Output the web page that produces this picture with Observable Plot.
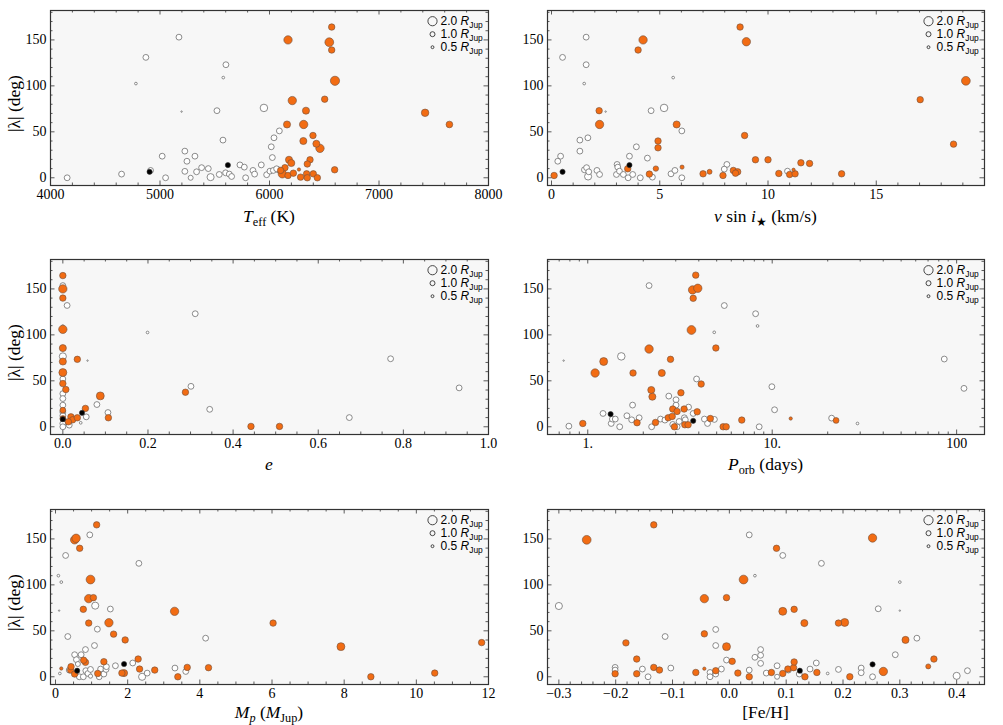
<!DOCTYPE html>
<html><head><meta charset="utf-8">
<script src="https://cdn.jsdelivr.net/npm/d3@7"></script>
<script src="https://cdn.jsdelivr.net/npm/@observablehq/plot@0.6"></script>
<style>
body{margin:0;background:#fff;}
#root{position:relative;width:1003px;height:725px;overflow:hidden;background:#fff;}
#root svg{position:absolute;font-family:"Liberation Serif","Times New Roman",serif !important;font-size:14px !important;}
#root svg text{font-family:"Liberation Serif","Times New Roman",serif;}
#root svg text.leg{font-family:"Liberation Sans",Arial,sans-serif;}
</style></head><body><div id="root"></div>
<script>
// ---------- shared y axis ----------
const yTicks = [0, 50, 100, 150];
const yTickLabels = ["0", "50", "100", "150"];
const legendSizes = [2.0, 1.0, 0.5];
const legendLabels = ["2.0", "1.0", "0.5"];

// ---------- panel 1: Teff ----------  [x, |lambda|, R_Jup]
const teffTicks = [4000, 5000, 6000, 7000, 8000];
const teffTickLabels = ["4000", "5000", "6000", "7000", "8000"];
const teffWhite = [[4152,0,1.2],[4649,4,1.2],[5173,153,1.2],[4871,131,1.2],[4780,102.5,0.45],[5020,23.5,1.2],[5051,0,1.2],[4914,8,1.2],[5197,72,0.15],[5227,29,1.2],[5227,7,1.2],[5246,18,1.2],[5280,0,1.0],[5319,23.5,1.2],[5334,6.5,1.2],[5380,11,1.2],[5441,10,1.2],[5462,0.7,1.5],[5520,73,1.2],[5541,3.6,1.2],[5575,41,1.2],[5578,109,0.45],[5602,123,1.2],[5599,5.4,1.2],[5633,4,1.2],[5654,1.4,1.2],[5730,14,1.2],[5770,11.6,1.2],[5782,0,1.2],[5849,8,1.2],[5864,4,1.2],[5925,14,1.2],[5949,76,1.6],[5974,3.3,1.2],[6004,7.2,1.2],[6016,33.7,1.2],[6026,22,1.2],[6035,8,1.2],[6041,43.5,1.2],[6080,8.7,1.2],[6090,51,1.2],[6065,9.8,1.2]];
const teffOrange = [[6169,150,1.8],[6160,58,1.5],[6208,84,1.8],[6333,73,1.5],[6312,58,1.8],[6309,40,1.5],[6397,46,1.35],[6428,37,1.5],[6461,32,1.8],[6178,19.6,1.5],[6199,16,1.5],[6370,19.6,1.35],[6345,15,1.35],[6117,4.3,1.8],[6141,11,1.35],[6169,2.5,1.35],[6218,5,1.35],[6269,9,0.6],[6284,0.7,1.35],[6339,4.3,1.35],[6345,0,1.35],[6400,4.3,1.35],[6437,0,1.35],[6504,85.5,1.35],[6546,147.5,1.9],[6568,164,1.35],[6568,139,1.35],[6598,105.5,2.0],[6595,8.7,1.35],[7421,70.7,1.6],[7643,58,1.4],[6102,8,1.35]];
const teffBlack = [[4905,6.5],[5620,13.8]];

// ---------- panel 2: v sin i ----------
const vsiniTicks = [0, 5, 10, 15];
const vsiniTickLabels = ["0", "5", "10", "15"];
const vsiniWhite = [[0.51,131,1.2],[0.42,23.5,1.2],[0.29,18,1.2],[1.6,153,1.2],[1.6,123,1.2],[1.51,102.5,0.45],[1.31,41,1.2],[1.68,43.5,1.2],[1.31,29,1.2],[1.52,8.7,1.2],[1.62,11,1.2],[1.69,1.4,1.5],[1.72,6.5,1.2],[2.1,8,1.2],[2.22,3.6,1.2],[2.5,72,0.15],[3.03,14.5,1.2],[3.06,11.6,1.2],[3.0,3.6,1.2],[3.14,7.2,1.2],[3.32,3.6,1.2],[3.54,0,1.2],[3.6,23.5,1.2],[3.75,3.6,1.2],[3.92,33.7,1.2],[4.1,0,1.2],[4.43,21.4,1.2],[4.6,73,1.2],[4.66,0.7,1.2],[5.2,76,1.6],[5.52,4.3,1.2],[5.7,8,1.2],[5.62,109,0.45],[6.02,51,1.2],[6.02,0,1.2],[8.1,14.5,1.2],[7.98,9.4,1.2],[10.9,7.2,1.2]];
const vsiniOrange = [[0.12,2.5,1.35],[2.2,73,1.35],[2.22,58,1.8],[3.52,9.8,1.35],[4.0,139,1.35],[4.23,150,1.8],[4.52,4,1.35],[4.82,10,1.1],[4.92,40,1.35],[4.92,32.6,1.35],[5.78,58,1.5],[6.03,11.6,0.8],[7.0,4.3,1.35],[7.3,6.5,1.0],[7.92,2.5,1.35],[8.71,164,1.35],[9.0,148,1.8],[8.92,46,1.35],[8.4,8,1.35],[8.6,6.5,1.35],[8.5,5,1.35],[9.42,19.6,1.35],[10.0,19.6,1.35],[10.5,4.7,1.35],[11.0,3.6,1.35],[11.25,4.3,1.35],[11.18,8.7,0.6],[11.52,16.3,1.35],[11.92,15.6,1.35],[13.4,4.3,1.35],[17.03,85,1.35],[18.57,36.6,1.35],[19.14,105.5,1.9]];
const vsiniBlack = [[0.51,6.5],[3.6,13.8]];

// ---------- panel 3: eccentricity ----------
const eccTicks = [0, 0.2, 0.4, 0.6, 0.8, 1.0];
const eccTickLabels = ["0.0", "0.2", "0.4", "0.6", "0.8", "1.0"];
const eccWhite = [[0,153.6,1.2],[0.01,132,1.2],[0,109.5,0.45],[0,76.6,1.5],[0,52,1.2],[0,36,1.2],[0,30.7,1.2],[0,23.5,1.2],[0,16,1.2],[0,12,1.2],[0,3.6,1.2],[0,0,1.2],[0.058,72,0.15],[0.055,10.8,1.2],[0.08,24.2,1.2],[0.106,15.5,1.2],[0.015,1.8,1.2],[0.042,4.3,0.45],[0.301,44,1.2],[0.311,123,1.2],[0.199,102.6,0.45],[0.345,19,1.2],[0.673,10,1.2],[0.77,74,1.2],[0.931,42.3,1.2]];
const eccOrange = [[0,164.5,1.35],[0,150,1.8],[0,140,1.35],[0,106,1.8],[0,85.6,1.5],[0,71,1.5],[0,59,1.7],[0,47,1.35],[0.007,40.5,1.35],[0,18,1.2],[0,9,1.2],[0.034,73.4,1.35],[0.019,10.8,1.35],[0.023,7.6,1.35],[0.034,9.8,1.35],[0.013,5.4,1.35],[0.053,20,1.35],[0.088,33.6,1.7],[0.107,9.8,1.35],[0.288,37.6,1.35],[0.442,0.4,1.35],[0.509,0.4,1.35]];
const eccBlack = [[0,8.3],[0.045,15.2]];

// ---------- panel 4: orbital period (log) ----------
const porbTicks = [1, 10, 100];
const porbTickLabels = ["1.", "10.", "100"];
const porbMinor = [0.7,0.8,0.9,2,3,4,5,6,7,8,9,20,30,40,50,60,70,80,90];
const porbWhite = [[0.79,0.7,1.2],[0.74,72,0.15],[1.21,14.5,1.2],[1.34,3.6,1.2],[1.36,8.4,1.2],[1.41,8.4,1.2],[1.49,0,1.2],[1.52,76.6,1.6],[1.63,12,1.2],[1.73,7.6,1.2],[1.75,23.6,1.2],[1.9,9.8,1.2],[2.15,153.6,1.2],[2.22,0,1.2],[2.48,8.4,1.2],[2.62,7.3,1.2],[2.75,33.4,1.2],[2.89,2.5,1.2],[3.01,29.4,1.2],[3.01,23.6,1.2],[3.05,0,1.2],[3.13,5.8,1.2],[3.34,9.8,1.2],[3.38,7.6,1.2],[3.52,21.4,1.2],[3.73,14.5,1.2],[3.89,52,1.2],[4.29,8.4,1.2],[4.46,3.6,1.2],[4.86,8,1.2],[4.85,102.8,0.45],[5.5,131.9,1.2],[8.13,123,1.2],[8.33,109.7,0.45],[8.5,0,1.2],[9.96,43.6,1.2],[10.3,18.5,1.2],[21.0,9.4,1.2],[29.0,3.6,0.45],[85.7,73.7,1.2],[109.6,41.8,1.2]];
const porbOrange = [[0.94,3.6,1.35],[1.096,58.5,1.8],[1.22,71,1.7],[1.76,58.5,1.35],[1.85,4.4,1.35],[2.15,84.6,1.8],[2.21,40,1.5],[2.24,32.7,1.5],[2.33,4.7,1.35],[2.52,58.5,1.5],[2.81,73.4,1.35],[2.73,9.8,1.35],[2.87,11.3,1.35],[2.89,19.3,1.35],[3.05,16.7,1.35],[2.95,0,1.35],[3.2,37,1.35],[3.33,19.3,1.35],[3.36,2.2,1.35],[3.5,2.2,1.35],[3.7,148.9,1.8],[3.95,150.7,1.8],[3.85,165,1.35],[3.73,139.8,1.35],[3.65,105.3,1.9],[3.92,16.3,1.35],[4.12,46.5,1.35],[4.62,9,1.35],[4.95,85.7,1.35],[5.42,0,1.35],[5.63,0,1.35],[6.84,7.3,1.35],[12.6,9,0.6],[22.2,6.9,1.2]];
const porbBlack = [[1.33,13.8],[3.73,6.5]];

// ---------- panel 5: planet mass ----------
const massTicks = [0, 2, 4, 6, 8, 10, 12];
const massTickLabels = ["0", "2", "4", "6", "8", "10", "12"];
const massWhite = [[0.08,110,0.45],[0.16,103,0.45],[0.1,72,0.15],[0.12,3.6,0.45],[0.28,132,1.2],[0.34,43.8,1.2],[0.38,7.3,1.2],[0.53,24,1.2],[0.58,18.6,1.2],[0.62,13.9,1.0],[0.66,0,1.2],[0.71,24,1.2],[0.77,0,1.2],[0.83,29.6,1.2],[0.84,6.6,1.2],[0.9,3.6,1.2],[0.95,154.4,1.2],[0.97,8,1.2],[0.97,0.7,0.8],[1.08,34,1.2],[1.1,77.4,1.5],[1.16,51.8,1.2],[1.21,0,1.2],[1.25,8.4,1.2],[1.34,3,1.2],[1.4,8,1.2],[1.41,11,1.2],[1.52,73.7,1.2],[1.66,12,1.2],[2.14,15,1.2],[2.31,123.4,1.2],[2.4,0,1.5],[2.54,4,1.2],[3.31,9.5,1.2],[3.61,5.8,1.2],[4.16,42,1.2]];
const massOrange = [[0.16,9,0.6],[0.42,7.3,1.35],[0.43,11,1.35],[0.53,149,1.8],[0.57,150.7,1.8],[0.53,3,1.35],[0.67,139.8,1.35],[0.77,73.4,1.35],[0.83,15.7,1.35],[0.78,18,1.35],[0.92,58.4,1.35],[0.92,85,1.8],[0.97,105.8,1.9],[1.05,86.1,1.35],[1.14,165.3,1.35],[1.17,3.6,1.35],[1.34,16.4,1.35],[1.48,58.8,1.8],[1.61,46.4,1.35],[1.84,4,1.35],[1.9,4,1.5],[1.93,40.1,1.35],[2.29,19.3,1.35],[2.33,8.4,1.35],[2.75,7.3,1.35],[3.3,71.2,1.8],[3.39,0,1.35],[3.65,10.2,1.35],[4.24,9.9,1.35],[6.03,58.4,1.35],[7.91,32.8,1.7],[8.74,0,1.35],[10.51,4,1.35],[11.81,37.2,1.35]];
const massBlack = [[0.6,6.6],[1.9,13.9]];

// ---------- panel 6: metallicity ----------
const fehTicks = [-0.3, -0.2, -0.1, 0, 0.1, 0.2, 0.3, 0.4];
const fehTickLabels = ["\u22120.3", "\u22120.2", "\u22120.1", "0.0", "0.1", "0.2", "0.3", "0.4"];
const fehWhite = [[-0.3,77,1.5],[-0.201,10.2,1.2],[-0.201,7.3,1.2],[-0.153,8.4,1.2],[-0.143,0,1.2],[-0.113,43.8,1.2],[-0.103,9.5,1.2],[-0.034,4.7,1.2],[-0.034,0,1.2],[-0.024,51.5,1.2],[-0.024,34,1.2],[-0.024,3,1.2],[-0.014,8.4,1.2],[-0.005,18.2,1.2],[0.035,154.4,1.2],[0.035,7.3,1.2],[0.045,110,0.45],[0.045,21.2,1.2],[0.055,29.6,1.2],[0.055,23.4,1.2],[0.055,14.6,1.2],[0.065,4,1.2],[0.084,12,1.2],[0.084,0,1.0],[0.094,132,1.2],[0.104,7.3,1.2],[0.123,3,1.2],[0.142,8.4,1.2],[0.153,15,1.2],[0.162,123.4,1.2],[0.173,3.6,0.45],[0.192,8,1.2],[0.232,9.5,1.2],[0.232,4.4,1.2],[0.252,0,1.2],[0.262,74,1.2],[0.292,24,1.2],[0.3,103,0.45],[0.3,72,0.15],[0.33,42,1.2],[0.4,1,1.5],[0.419,6.6,1.2]];
const fehOrange = [[-0.251,149,1.9],[-0.201,3.3,1.35],[-0.182,36.9,1.35],[-0.163,19.3,1.35],[-0.163,3.3,1.35],[-0.133,165.3,1.35],[-0.133,10.2,1.35],[-0.123,7.3,1.35],[-0.059,4.7,1.35],[-0.044,85,1.8],[-0.044,46.7,1.35],[-0.044,8.8,0.6],[-0.024,6.6,1.35],[-0.005,86.1,1.35],[-0.005,32.8,1.7],[0.005,16.8,1.35],[0.015,4,1.35],[0.025,105.8,1.9],[0.035,0,1.35],[0.074,4.7,1.35],[0.083,139.8,1.35],[0.094,71.2,1.7],[0.094,3.6,1.35],[0.103,8.4,1.35],[0.113,9.9,1.35],[0.114,73.4,1.35],[0.114,16.1,1.35],[0.132,58.4,1.5],[0.133,0,1.35],[0.154,4.7,1.35],[0.192,58.4,1.35],[0.203,59.1,1.7],[0.212,0,1.35],[0.252,151,1.8],[0.271,5.8,1.8],[0.31,40.1,1.5],[0.35,11.3,1.0],[0.36,19.3,1.35]];
const fehBlack = [[0.124,6.6],[0.252,13.5]];

// ---------- layout ----------
const yLo = -8.4, yHi = 182, frameH = 175, mT = 10;
const INK = "#333";
const ORANGE = "#f26c13";

const panels = [
  {left:0, top:0, width:500, mL:50, mR:12, h:235, xLo:4000, xHi:8000, log:false, ticks:teffTicks, labels:teffTickLabels, step:200,
   white:teffWhite, orange:teffOrange, black:teffBlack, yTitle:true, tdy:37,
   title:[{t:"T",i:1},{t:"eff",s:1},{t:" (K)"}]},
  {left:500, top:0, width:503, mL:47, mR:19, h:235, xLo:-0.185, xHi:20, log:false, ticks:vsiniTicks, labels:vsiniTickLabels, step:1,
   white:vsiniWhite, orange:vsiniOrange, black:vsiniBlack, yTitle:false, tdy:37,
   title:[{t:"v",i:1},{t:" sin "},{t:"i",i:1},{t:"\u2605",s:1},{t:" (km/s)"}]},
  {left:0, top:249, width:500, mL:50, mR:12, h:235, xLo:-0.029, xHi:1.0, log:false, ticks:eccTicks, labels:eccTickLabels, step:0.05,
   white:eccWhite, orange:eccOrange, black:eccBlack, yTitle:true, tdy:36,
   title:[{t:"e",i:1}]},
  {left:500, top:249, width:503, mL:47, mR:19, h:235, xLo:0.605, xHi:141.6, log:true, ticks:porbTicks, labels:porbTickLabels, minor:porbMinor,
   white:porbWhite, orange:porbOrange, black:porbBlack, yTitle:false, tdy:36,
   title:[{t:"P",i:1},{t:"orb",s:1},{t:" (days)"}]},
  {left:0, top:499, width:500, mL:50, mR:12, h:226, xLo:-0.139, xHi:12, log:false, ticks:massTicks, labels:massTickLabels, step:0.5,
   white:massWhite, orange:massOrange, black:massBlack, yTitle:true, tdy:34,
   title:[{t:"M",i:1},{t:"p",i:1,s:1},{t:" ("},{t:"M",i:1},{t:"Jup",s:1},{t:")"}]},
  {left:500, top:499, width:503, mL:47, mR:19, h:226, xLo:-0.32, xHi:0.449, log:false, ticks:fehTicks, labels:fehTickLabels, step:0.02,
   white:fehWhite, orange:fehOrange, black:fehBlack, yTitle:false, tdy:34,
   title:[{t:"[Fe/H]"}]}
];

function rich(sel, parts, size, shift) {
  let cur = 0;
  for (const p of parts) {
    const ts = sel.append("tspan").text(p.t);
    if (p.i) ts.attr("font-style", "italic");
    if (p.s) ts.attr("font-size", size * 0.7);
    const want = p.s ? shift : 0;
    if (want !== cur) { ts.attr("dy", want - cur); cur = want; }
  }
}

const root = document.getElementById("root");
const yOff = px => px * (yHi - yLo) / frameH;
const yMinor = d3.range(10, 181, 10).filter(v => !yTicks.includes(v));

for (const p of panels) {
  const frameW = p.width - p.mL - p.mR;
  const xAt = (base, px, dir) => p.log
    ? base * Math.pow(10, dir * px * Math.log10(p.xHi / p.xLo) / frameW)
    : base + dir * px * (p.xHi - p.xLo) / frameW;
  const minor = p.minor || d3.range(Math.ceil(p.xLo / p.step) * p.step, p.xHi, p.step)
      .map(v => +v.toFixed(6))
      .filter(v => v > p.xLo && v < p.xHi && !p.ticks.some(m => Math.abs(m - v) < p.step / 10));
  const xLabel = new Map(p.ticks.map((t, i) => [t, p.labels[i]]));
  const yLabel = new Map(yTicks.map((t, i) => [t, yTickLabels[i]]));
  const tickStyle = {stroke: INK, strokeWidth: 0.8};
  const xTickMarks = (vals, len) => [
    Plot.ruleX(vals, {x: d => d, y1: () => yLo, y2: () => yLo + yOff(len), ...tickStyle}),
    Plot.ruleX(vals, {x: d => d, y1: () => yHi, y2: () => yHi - yOff(len), ...tickStyle})
  ];
  const yTickMarks = (vals, len) => [
    Plot.ruleY(vals, {y: d => d, x1: () => p.xLo, x2: () => xAt(p.xLo, len, 1), ...tickStyle}),
    Plot.ruleY(vals, {y: d => d, x1: () => p.xHi, x2: () => xAt(p.xHi, len, -1), ...tickStyle})
  ];
  const legendDy = [10.7, 23.7, 36.7];

  const svg = Plot.plot({
    width: p.width, height: p.h,
    marginLeft: p.mL, marginRight: p.mR, marginTop: mT, marginBottom: p.h - mT - frameH,
    x: {type: p.log ? "log" : "linear", domain: [p.xLo, p.xHi]},
    y: {domain: [yLo, yHi]},
    r: {type: "linear", domain: [0, 2], range: [0.4, 4.6]},
    style: {background: "transparent", overflow: "visible", color: "#000"},
    marks: [
      Plot.frame({fill: "#f7f7f7", stroke: "none"}),
      ...xTickMarks(p.ticks, 4.5), ...xTickMarks(minor, 2.5),
      ...yTickMarks(yTicks, 4.5), ...yTickMarks(yMinor, 2.5),
      Plot.axisX({ticks: p.ticks, tickFormat: d => xLabel.get(d), tickSize: 0, tickPadding: 4, label: null, fontSize: 14}),
      Plot.axisY({ticks: yTicks, tickFormat: d => yLabel.get(d), tickSize: 0, tickPadding: 4, label: null, fontSize: 14}),
      Plot.dot(p.white, {x: d => d[0], y: d => d[1], r: d => d[2], fill: "white", stroke: "#6e6e6e", strokeWidth: 0.8}),
      Plot.dot(p.orange, {x: d => d[0], y: d => d[1], r: d => d[2], fill: ORANGE, stroke: "#6f4f3c", strokeWidth: 0.6}),
      Plot.dot(p.black, {x: d => d[0], y: d => d[1], r: 2.6, fill: "#000", stroke: "#333", strokeWidth: 0.6}),
      ...legendSizes.map((v, i) => Plot.dot([v], {r: d => d, frameAnchor: "top-right", dx: -56, dy: legendDy[i], fill: "none", stroke: INK, strokeWidth: 0.9})),
      Plot.frame({stroke: INK, strokeWidth: 1.2, fill: "none"})
    ]
  });
  svg.style.left = p.left + "px";
  svg.style.top = p.top + "px";
  const s = d3.select(svg);
  // legend labels
  legendLabels.forEach((lab, i) => {
    const t = s.append("text").attr("class", "leg")
      .attr("x", p.mL + frameW - 47.5).attr("y", mT + legendDy[i] + 4.2)
      .attr("text-anchor", "start")
      .attr("font-size", 12).attr("fill", "#000");
    rich(t, [{t: lab + " "}, {t: "R", i: 1}, {t: "Jup", s: 1}], 12, 3);
  });
  // x title
  const xt = s.append("text")
    .attr("x", p.mL + frameW / 2).attr("y", mT + frameH + p.tdy)
    .attr("text-anchor", "middle").attr("font-size", 17.5).attr("fill", "#000");
  rich(xt, p.title, 17.5, 4);
  // y title
  if (p.yTitle) {
    s.append("text")
      .attr("transform", `translate(13.5,${mT + frameH / 2 + 6}) rotate(-90)`)
      .attr("text-anchor", "middle").attr("dominant-baseline", "central")
      .attr("font-size", 17.5).attr("fill", "#000")
      .text("|\u03bb| (deg)");
  }
  root.appendChild(svg);
}
</script></body></html>
